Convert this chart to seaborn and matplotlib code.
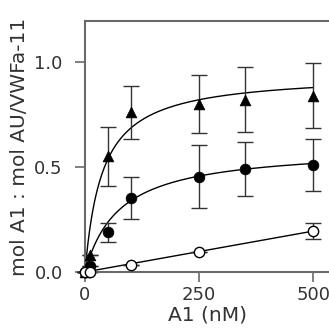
import numpy as np
import pandas as pd
import matplotlib
matplotlib.use("Agg")
import matplotlib.pyplot as plt
import seaborn as sns

# Data
tri_x = [0, 10, 50, 100, 250, 350, 500]
tri_y = [0.0, 0.08, 0.55, 0.76, 0.80, 0.82, 0.84]
tri_err = [0.0, 0.0, 0.14, 0.125, 0.14, 0.155, 0.155]

fil_x = [0, 10, 50, 100, 250, 350, 500]
fil_y = [0.0, 0.03, 0.19, 0.35, 0.454, 0.49, 0.51]
fil_err = [0.0, 0.0, 0.045, 0.10, 0.15, 0.13, 0.125]

opn_x = [0, 10, 100, 250, 500]
opn_y = [0.0, 0.0, 0.035, 0.097, 0.195]
opn_err = [0.0, 0.0, 0.0, 0.0, 0.04]

# Fit parameters (one-site binding / linear) for the drawn curves
tri_bmax, tri_kd = 0.945, 38.0
fil_bmax, fil_kd = 0.595, 75.6
opn_slope = 0.00039

x_ticks = [0, 250, 500]
y_ticks = [0.0, 0.5, 1.0]
x_label = "A1 (nM)"
y_label = "mol A1 : mol AU/VWFa-11"

sns.set_style("ticks")
plt.rcParams['font.family'] = ['DejaVu Sans']

fig = plt.figure(figsize=(3.29, 3.31), dpi=100)
ax = fig.add_axes([85/329, 1 - 272/331, 1 - 85/329, (272 - 21)/331])

xs = np.linspace(0, 500, 300)
curves = pd.DataFrame({
    "x": np.concatenate([xs, xs, xs]),
    "y": np.concatenate([tri_bmax * xs / (tri_kd + xs),
                         fil_bmax * xs / (fil_kd + xs),
                         opn_slope * xs]),
    "s": ["tri"] * len(xs) + ["fil"] * len(xs) + ["opn"] * len(xs),
})
for s in ["tri", "fil", "opn"]:
    sns.lineplot(data=curves[curves.s == s], x="x", y="y", color="black",
                 linewidth=1.0, ax=ax, legend=False)

err_kw = dict(fmt="none", ecolor="#333333", elinewidth=1.0, capsize=5.5,
              capthick=1.0, zorder=2, clip_on=False)
ax.errorbar(tri_x, tri_y, yerr=tri_err, **err_kw)
ax.errorbar(fil_x, fil_y, yerr=fil_err, **err_kw)
ax.errorbar(opn_x, opn_y, yerr=opn_err, **err_kw)

sns.scatterplot(x=tri_x, y=tri_y, marker="^", s=60, color="black",
                edgecolor="black", linewidth=0.5, ax=ax, zorder=4, clip_on=False)
sns.scatterplot(x=fil_x, y=fil_y, marker="o", s=60, color="black",
                edgecolor="black", linewidth=0.5, ax=ax, zorder=4, clip_on=False)
sns.scatterplot(x=opn_x, y=opn_y, marker="o", s=55, facecolor="white",
                edgecolor="black", linewidth=1.0, ax=ax, zorder=4, clip_on=False)

ax.set_xlim(0, 534)
ax.set_ylim(0, 1.195)
ax.set_xticks(x_ticks)
ax.set_xticklabels([str(v) for v in x_ticks])
ax.set_yticks(y_ticks)
ax.set_yticklabels([f"{v:.1f}" for v in y_ticks])

spine_c = "#6a6a6a"
for side in ["left", "bottom", "top"]:
    ax.spines[side].set_color(spine_c)
    ax.spines[side].set_linewidth(1.5)
ax.spines["right"].set_visible(False)
ax.tick_params(axis="both", direction="out", length=7, width=1.2,
               color=spine_c, labelsize=13, labelcolor="#333333")
ax.tick_params(axis="y", pad=9)
ax.tick_params(axis="x", pad=3)

ax.set_xlabel(x_label, fontsize=14.5, color="#333333", labelpad=1)
ax.set_ylabel(y_label, fontsize=14.5, color="#333333", labelpad=4)

fig.savefig("out.png", dpi=100)
